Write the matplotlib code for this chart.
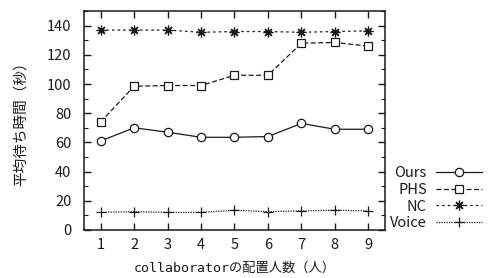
import matplotlib
matplotlib.use("Agg")
import matplotlib.pyplot as plt
from matplotlib.ticker import MultipleLocator

plt.rcParams["font.family"] = ["Noto Sans CJK JP", "DejaVu Sans"]

INK = "#1a1a1a"

x = [1, 2, 3, 4, 5, 6, 7, 8, 9]
ours = [61, 70, 67, 63.5, 63.5, 64, 73, 69, 69]
phs = [74, 98.5, 99, 99, 106, 106, 128, 128.5, 126]
nc = [137, 137, 137, 135.5, 136, 136, 135.5, 136, 136.5]
voice = [12, 12.5, 12, 12, 13.5, 12.5, 13, 13.5, 13]

fig = plt.figure(figsize=(4.88, 2.78), dpi=100)
ax = fig.add_axes([0.172, 0.173, 0.617, 0.787])

ax.plot(x, ours, color=INK, lw=0.9, ls="-", marker="o", ms=6,
        mfc="white", mec=INK, mew=0.9, label="Ours")
ax.plot(x, phs, color=INK, lw=0.9, ls=(0, (4, 2)), marker="s", ms=6,
        mfc="white", mec=INK, mew=0.9, label="PHS")
ax.plot(x, nc, color=INK, lw=0.9, ls=(0, (2, 2.5)), marker=(8, 2, 0), ms=7,
        mec=INK, mew=0.9, label="NC")
ax.plot(x, voice, color=INK, lw=0.9, ls=(0, (1, 1)), marker="+", ms=7,
        mec=INK, mew=0.9, label="Voice")

ax.set_xlim(0.5, 9.5)
ax.set_ylim(0, 150)
ax.set_xticks(x)
ax.yaxis.set_minor_locator(MultipleLocator(10))
ax.set_yticks([0, 20, 40, 60, 80, 100, 120, 140])
ax.tick_params(which="both", direction="in", top=True, right=True,
               labelsize=10.5, colors=INK)
ax.tick_params(axis="y", pad=9)
ax.tick_params(axis="x", pad=6)
ax.tick_params(which="major", length=5, width=1)
ax.tick_params(which="minor", length=3, width=0.8)
for s in ax.spines.values():
    s.set_linewidth(1.1)
    s.set_color(INK)

ax.set_ylabel("平均待ち時間（秒）", fontsize=10.5, color=INK, labelpad=14)
ax.set_xlabel("collaboratorの配置人数（人）",
              family=["DejaVu Sans Mono", "Noto Sans CJK JP"], fontsize=9.5,
              color=INK, labelpad=7)

leg = fig.legend(loc="lower right", bbox_to_anchor=(1.0, 0.15), frameon=False,
                 markerfirst=False, fontsize=10.5, handlelength=3.2,
                 handletextpad=0.6, labelspacing=0.2, borderaxespad=0)
for t in leg.get_texts():
    t.set_color(INK)

fig.savefig("out.png", dpi=100, facecolor="white")
